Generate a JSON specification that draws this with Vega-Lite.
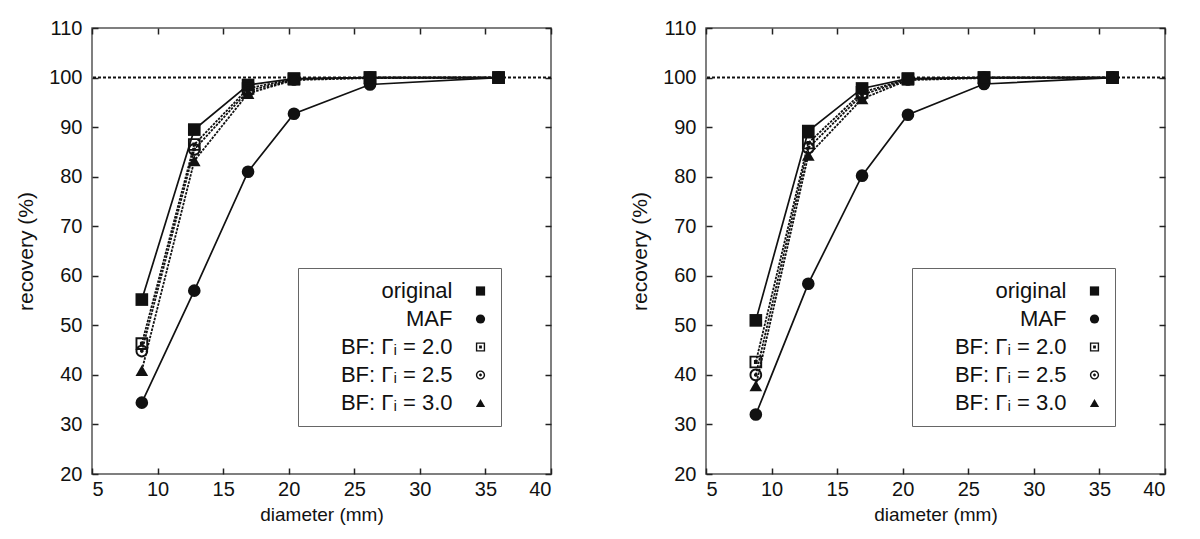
{
  "$schema": "https://vega.github.io/schema/vega-lite/v6.json",
  "background": "white",
  "padding": {"left": 14, "top": 17, "right": 0, "bottom": 0},
  "spacing": 75,
  "datasets": {
    "left": [
      {"series": "original", "d": 8.8, "r": 55.2}, {"series": "original", "d": 12.8, "r": 89.5}, {"series": "original", "d": 16.9, "r": 98.5}, {"series": "original", "d": 20.4, "r": 99.8}, {"series": "original", "d": 26.2, "r": 100}, {"series": "original", "d": 36, "r": 100},
      {"series": "MAF", "d": 8.8, "r": 34.4}, {"series": "MAF", "d": 12.8, "r": 57}, {"series": "MAF", "d": 16.9, "r": 81}, {"series": "MAF", "d": 20.4, "r": 92.7}, {"series": "MAF", "d": 26.2, "r": 98.6}, {"series": "MAF", "d": 36, "r": 100},
      {"series": "BF: Γᵢ = 2.0", "d": 8.8, "r": 46.3}, {"series": "BF: Γᵢ = 2.0", "d": 12.8, "r": 86.5}, {"series": "BF: Γᵢ = 2.0", "d": 16.9, "r": 97.8}, {"series": "BF: Γᵢ = 2.0", "d": 20.4, "r": 99.7}, {"series": "BF: Γᵢ = 2.0", "d": 26.2, "r": 100}, {"series": "BF: Γᵢ = 2.0", "d": 36, "r": 100},
      {"series": "BF: Γᵢ = 2.5", "d": 8.8, "r": 44.8}, {"series": "BF: Γᵢ = 2.5", "d": 12.8, "r": 85.5}, {"series": "BF: Γᵢ = 2.5", "d": 16.9, "r": 97.3}, {"series": "BF: Γᵢ = 2.5", "d": 20.4, "r": 99.6}, {"series": "BF: Γᵢ = 2.5", "d": 26.2, "r": 100}, {"series": "BF: Γᵢ = 2.5", "d": 36, "r": 100},
      {"series": "BF: Γᵢ = 3.0", "d": 8.8, "r": 40.9}, {"series": "BF: Γᵢ = 3.0", "d": 12.8, "r": 83.2}, {"series": "BF: Γᵢ = 3.0", "d": 16.9, "r": 96.8}, {"series": "BF: Γᵢ = 3.0", "d": 20.4, "r": 99.5}, {"series": "BF: Γᵢ = 3.0", "d": 26.2, "r": 99.9}, {"series": "BF: Γᵢ = 3.0", "d": 36, "r": 100}
    ],
    "right": [
      {"series": "original", "d": 8.8, "r": 51}, {"series": "original", "d": 12.8, "r": 89.2}, {"series": "original", "d": 16.9, "r": 97.8}, {"series": "original", "d": 20.4, "r": 99.8}, {"series": "original", "d": 26.2, "r": 100}, {"series": "original", "d": 36, "r": 100},
      {"series": "MAF", "d": 8.8, "r": 32}, {"series": "MAF", "d": 12.8, "r": 58.4}, {"series": "MAF", "d": 16.9, "r": 80.2}, {"series": "MAF", "d": 20.4, "r": 92.5}, {"series": "MAF", "d": 26.2, "r": 98.7}, {"series": "MAF", "d": 36, "r": 100},
      {"series": "BF: Γᵢ = 2.0", "d": 8.8, "r": 42.6}, {"series": "BF: Γᵢ = 2.0", "d": 12.8, "r": 86.8}, {"series": "BF: Γᵢ = 2.0", "d": 16.9, "r": 97}, {"series": "BF: Γᵢ = 2.0", "d": 20.4, "r": 99.7}, {"series": "BF: Γᵢ = 2.0", "d": 26.2, "r": 100}, {"series": "BF: Γᵢ = 2.0", "d": 36, "r": 100},
      {"series": "BF: Γᵢ = 2.5", "d": 8.8, "r": 40}, {"series": "BF: Γᵢ = 2.5", "d": 12.8, "r": 85.8}, {"series": "BF: Γᵢ = 2.5", "d": 16.9, "r": 96.5}, {"series": "BF: Γᵢ = 2.5", "d": 20.4, "r": 99.6}, {"series": "BF: Γᵢ = 2.5", "d": 26.2, "r": 100}, {"series": "BF: Γᵢ = 2.5", "d": 36, "r": 100},
      {"series": "BF: Γᵢ = 3.0", "d": 8.8, "r": 37.8}, {"series": "BF: Γᵢ = 3.0", "d": 12.8, "r": 84.3}, {"series": "BF: Γᵢ = 3.0", "d": 16.9, "r": 95.7}, {"series": "BF: Γᵢ = 3.0", "d": 20.4, "r": 99.5}, {"series": "BF: Γᵢ = 3.0", "d": 26.2, "r": 99.9}, {"series": "BF: Γᵢ = 3.0", "d": 36, "r": 100}
    ],
    "ref": [{"level": 100}]
  },
  "config": {
    "font": "Liberation Sans",
    "view": {"stroke": "#555", "strokeWidth": 1.5},
    "axis": {
      "domain": false, "grid": false, "ticks": true, "tickColor": "#222", "tickSize": -6, "tickWidth": 1.5,
      "labelFont": "Liberation Sans", "labelFontSize": 20, "labelColor": "#111",
      "titleFont": "Liberation Sans", "titleFontSize": 19, "titleFontWeight": "normal", "titleColor": "#111"
    },
    "legend": {"labelFont": "Liberation Sans", "labelFontSize": 22, "labelColor": "#111"}
  },
  "resolve": {"scale": {"shape": "independent"}, "legend": {"shape": "independent"}},
  "hconcat": [
    {
      "width": 459, "height": 446,
      "data": {"name": "left"},
      "resolve": {"axis": {"x": "independent", "y": "independent"}},
      "layer": [
        {
          "data": {"name": "ref"},
          "mark": {"type": "rule", "color": "#111", "strokeWidth": 2, "strokeDash": [3, 2]},
          "encoding": {"y": {"field": "level", "type": "quantitative", "scale": {"domain": [20, 110], "nice": false}, "axis": null}}
        },
        {
          "transform": [{"filter": {"field": "series", "oneOf": ["original", "MAF"]}}],
          "mark": {"type": "line", "color": "#111", "strokeWidth": 1.7},
          "encoding": {
            "x": {"field": "d", "type": "quantitative", "scale": {"domain": [5, 40], "nice": false}, "axis": null},
            "y": {"field": "r", "type": "quantitative", "scale": {"domain": [20, 110], "nice": false}, "axis": null},
            "detail": {"field": "series"}
          }
        },
        {
          "transform": [{"filter": {"field": "series", "oneOf": ["BF: Γᵢ = 2.0", "BF: Γᵢ = 2.5", "BF: Γᵢ = 3.0"]}}],
          "mark": {"type": "line", "color": "#111", "strokeWidth": 1.8, "strokeDash": [2.5, 1.2]},
          "encoding": {
            "x": {"field": "d", "type": "quantitative", "axis": null},
            "y": {"field": "r", "type": "quantitative", "axis": null},
            "detail": {"field": "series"}
          }
        },
        {
          "mark": {"type": "point", "filled": true, "color": "#111", "opacity": 1, "size": 160},
          "encoding": {
            "x": {"field": "d", "type": "quantitative", "title": "diameter (mm)", "axis": {"orient": "bottom", "values": [5, 10, 15, 20, 25, 30, 35, 40], "labelPadding": 11, "titlePadding": 6}},
            "y": {"field": "r", "type": "quantitative", "title": "recovery (%)", "axis": {"orient": "left", "values": [20, 30, 40, 50, 60, 70, 80, 90, 100, 110], "labelPadding": 16, "titlePadding": 12, "titleFontSize": 21}},
            "shape": {
              "field": "series", "type": "nominal",
              "scale": {"domain": ["original", "MAF", "BF: Γᵢ = 2.0", "BF: Γᵢ = 2.5", "BF: Γᵢ = 3.0"], "range": ["square", "circle", "M-1,-1H1V1H-1Z M-0.7,-0.7V0.7H0.7V-0.7Z M-0.3,-0.3H0.3V0.3H-0.3Z", "M-1,0A1,1,0,1,1,1,0A1,1,0,1,1,-1,0Z M-0.7,0A0.7,0.7,0,1,0,0.7,0A0.7,0.7,0,1,0,-0.7,0Z M-0.3,0A0.3,0.3,0,1,1,0.3,0A0.3,0.3,0,1,1,-0.3,0Z", "triangle-up"]},
              "legend": {"title": null, "orient": "none", "legendX": 206, "legendY": 240, "fillColor": "white", "strokeColor": "#666", "padding": 12, "labelAlign": "right", "labelOffset": -39, "symbolOffset": 159.5, "symbolSize": 85, "rowPadding": 6}
            }
          }
        },
        {
          "mark": {"type": "point", "opacity": 0},
          "encoding": {
            "x": {"field": "d", "type": "quantitative", "axis": {"orient": "top", "labels": false, "title": null, "values": [5, 10, 15, 20, 25, 30, 35, 40]}},
            "y": {"field": "r", "type": "quantitative", "axis": {"orient": "right", "labels": false, "title": null, "values": [20, 30, 40, 50, 60, 70, 80, 90, 100, 110]}}
          }
        }
      ]
    },
    {
      "width": 459, "height": 446,
      "data": {"name": "right"},
      "resolve": {"axis": {"x": "independent", "y": "independent"}},
      "layer": [
        {
          "data": {"name": "ref"},
          "mark": {"type": "rule", "color": "#111", "strokeWidth": 2, "strokeDash": [3, 2]},
          "encoding": {"y": {"field": "level", "type": "quantitative", "scale": {"domain": [20, 110], "nice": false}, "axis": null}}
        },
        {
          "transform": [{"filter": {"field": "series", "oneOf": ["original", "MAF"]}}],
          "mark": {"type": "line", "color": "#111", "strokeWidth": 1.7},
          "encoding": {
            "x": {"field": "d", "type": "quantitative", "scale": {"domain": [5, 40], "nice": false}, "axis": null},
            "y": {"field": "r", "type": "quantitative", "scale": {"domain": [20, 110], "nice": false}, "axis": null},
            "detail": {"field": "series"}
          }
        },
        {
          "transform": [{"filter": {"field": "series", "oneOf": ["BF: Γᵢ = 2.0", "BF: Γᵢ = 2.5", "BF: Γᵢ = 3.0"]}}],
          "mark": {"type": "line", "color": "#111", "strokeWidth": 1.8, "strokeDash": [2.5, 1.2]},
          "encoding": {
            "x": {"field": "d", "type": "quantitative", "axis": null},
            "y": {"field": "r", "type": "quantitative", "axis": null},
            "detail": {"field": "series"}
          }
        },
        {
          "mark": {"type": "point", "filled": true, "color": "#111", "opacity": 1, "size": 160},
          "encoding": {
            "x": {"field": "d", "type": "quantitative", "title": "diameter (mm)", "axis": {"orient": "bottom", "values": [5, 10, 15, 20, 25, 30, 35, 40], "labelPadding": 11, "titlePadding": 6}},
            "y": {"field": "r", "type": "quantitative", "title": "recovery (%)", "axis": {"orient": "left", "values": [20, 30, 40, 50, 60, 70, 80, 90, 100, 110], "labelPadding": 16, "titlePadding": 12, "titleFontSize": 21}},
            "shape": {
              "field": "series", "type": "nominal",
              "scale": {"domain": ["original", "MAF", "BF: Γᵢ = 2.0", "BF: Γᵢ = 2.5", "BF: Γᵢ = 3.0"], "range": ["square", "circle", "M-1,-1H1V1H-1Z M-0.7,-0.7V0.7H0.7V-0.7Z M-0.3,-0.3H0.3V0.3H-0.3Z", "M-1,0A1,1,0,1,1,1,0A1,1,0,1,1,-1,0Z M-0.7,0A0.7,0.7,0,1,0,0.7,0A0.7,0.7,0,1,0,-0.7,0Z M-0.3,0A0.3,0.3,0,1,1,0.3,0A0.3,0.3,0,1,1,-0.3,0Z", "triangle-up"]},
              "legend": {"title": null, "orient": "none", "legendX": 206, "legendY": 240, "fillColor": "white", "strokeColor": "#666", "padding": 12, "labelAlign": "right", "labelOffset": -39, "symbolOffset": 159.5, "symbolSize": 85, "rowPadding": 6}
            }
          }
        },
        {
          "mark": {"type": "point", "opacity": 0},
          "encoding": {
            "x": {"field": "d", "type": "quantitative", "axis": {"orient": "top", "labels": false, "title": null, "values": [5, 10, 15, 20, 25, 30, 35, 40]}},
            "y": {"field": "r", "type": "quantitative", "axis": {"orient": "right", "labels": false, "title": null, "values": [20, 30, 40, 50, 60, 70, 80, 90, 100, 110]}}
          }
        }
      ]
    }
  ]
}
